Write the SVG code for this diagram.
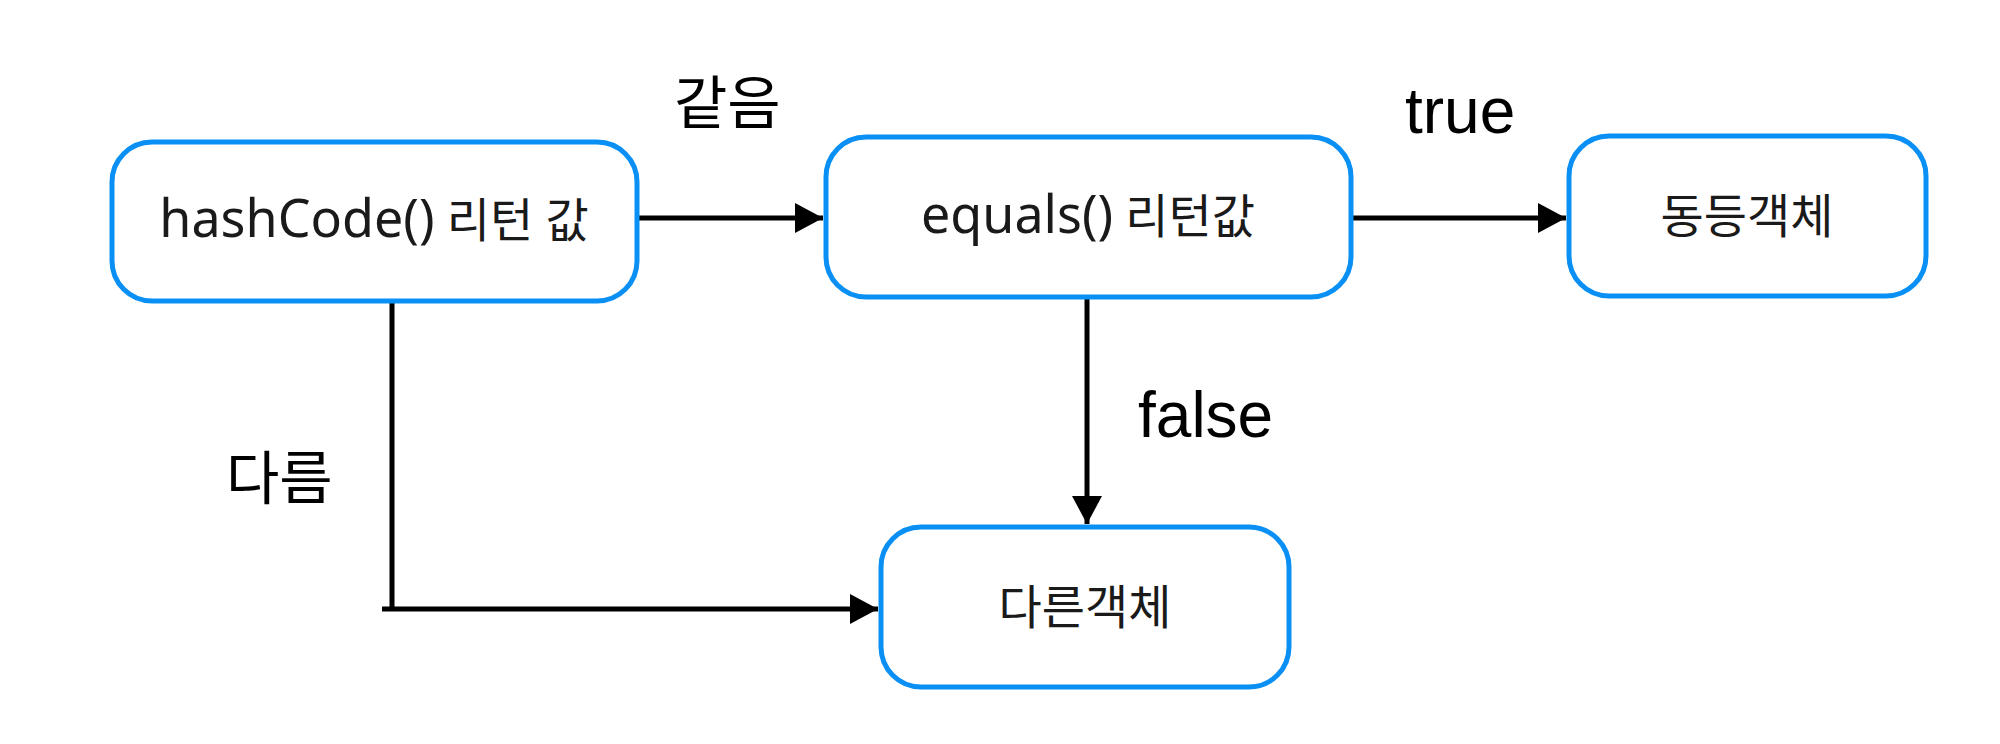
<svg xmlns="http://www.w3.org/2000/svg" width="2000" height="744" viewBox="0 0 2000 744">
<style>
.box{fill:#ffffff;stroke:#0a90f5;stroke-width:5}
.btxt{font-family:"Noto Sans","Noto Sans CJK KR",sans-serif;font-size:47px;fill:#1a1a1a;text-anchor:middle}
.lat{font-size:52px}
.lbl{font-family:"Liberation Sans","Noto Sans CJK KR",sans-serif;font-size:64px;fill:#000000}
.klbl{font-family:"Noto Sans CJK KR",sans-serif;font-size:58px;fill:#000000}
.conn{fill:none;stroke:#000000;stroke-width:5}
</style>
<defs>
<marker id="arr" markerUnits="userSpaceOnUse" markerWidth="30" markerHeight="32" refX="28" refY="15" orient="auto">
<path d="M0,0 L28,15 L0,30 Z" fill="#000000"/>
</marker>
</defs>
<rect width="2000" height="744" fill="#ffffff"/>
<g id="connectors">
<line class="conn" x1="637" y1="218" x2="823" y2="218" marker-end="url(#arr)"/>
<line class="conn" x1="1351" y1="218" x2="1566" y2="218" marker-end="url(#arr)"/>
<line class="conn" x1="1087" y1="297" x2="1087" y2="524" marker-end="url(#arr)"/>
<line class="conn" x1="392" y1="301" x2="392" y2="609"/>
<line class="conn" x1="382" y1="609" x2="878" y2="609" marker-end="url(#arr)"/>
<text class="klbl" x="674" y="124">같음</text>
<text class="lbl" x="1405" y="133">true</text>
<text class="lbl" x="1138" y="437">false</text>
<text class="klbl" x="226" y="499">다름</text>
</g>
<g id="node-hashcode">
<rect class="box" x="112" y="142" width="525" height="159" rx="40"/>
<text class="btxt" x="374" y="237"><tspan class="lat">hashCode()</tspan> 리턴 값</text>
</g>
<g id="node-equals">
<rect class="box" x="826" y="137" width="525" height="160" rx="40"/>
<text class="btxt" x="1088" y="233"><tspan class="lat">equals()</tspan> 리턴값</text>
</g>
<g id="node-same">
<rect class="box" x="1569" y="136" width="357" height="160" rx="40"/>
<text class="btxt" x="1747" y="233">동등객체</text>
</g>
<g id="node-diff">
<rect class="box" x="881" y="527" width="408" height="160" rx="40"/>
<text class="btxt" x="1085" y="624">다른객체</text>
</g>
</svg>
